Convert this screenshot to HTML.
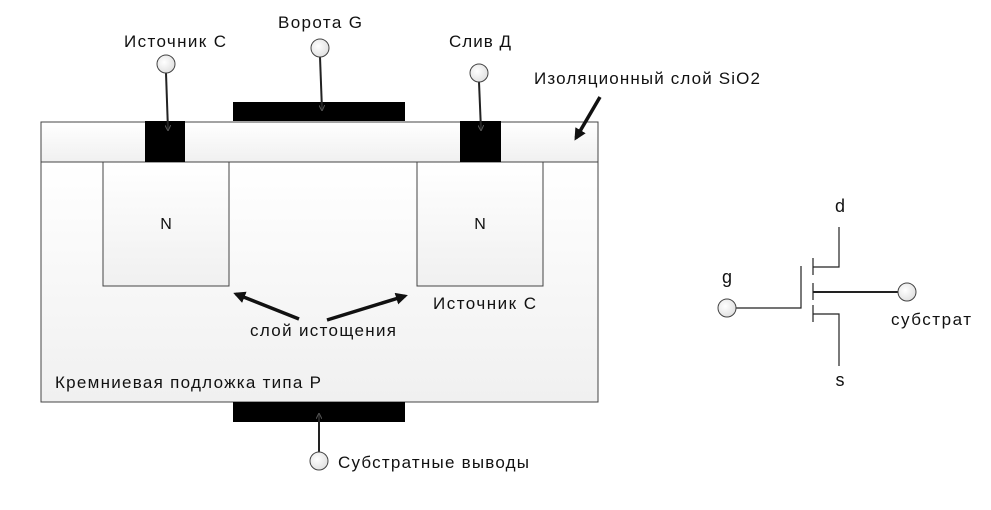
<!DOCTYPE html>
<html><head><meta charset="utf-8"><style>
html,body{margin:0;padding:0;background:#fff}
text{font-family:"Liberation Sans","DejaVu Sans",sans-serif;fill:#111}
</style></head><body>
<svg width="991" height="505" viewBox="0 0 991 505" xmlns="http://www.w3.org/2000/svg">
<defs>
<linearGradient id="g1" x1="0" y1="0" x2="0" y2="1"><stop offset="0" stop-color="#fff"/><stop offset="1" stop-color="#f0f0f0"/></linearGradient>
<radialGradient id="cg" cx="0.4" cy="0.4" r="0.7"><stop offset="0" stop-color="#fff"/><stop offset="1" stop-color="#ddd"/></radialGradient>
<marker id="ah" markerWidth="12" markerHeight="12" refX="9" refY="6" orient="auto" markerUnits="userSpaceOnUse"><path d="M0,0 L12,6 L0,12 z" fill="#111"/></marker>
<marker id="sa" markerWidth="6" markerHeight="6" refX="5" refY="3" orient="auto" markerUnits="userSpaceOnUse"><path d="M0,0 L6,3 L0,6" fill="none" stroke="#555" stroke-width="1"/></marker>
</defs>
<rect x="41" y="162" width="557" height="240" fill="url(#g1)" stroke="#444" stroke-width="1"/>
<rect x="41" y="122" width="557" height="40" fill="url(#g1)" stroke="#444" stroke-width="1"/>
<rect x="103" y="162" width="126" height="124" fill="url(#g1)" stroke="#444"/>
<rect x="417" y="162" width="126" height="124" fill="url(#g1)" stroke="#444"/>
<text x="166" y="229" font-size="16" text-anchor="middle">N</text>
<text x="480" y="229" font-size="16" text-anchor="middle">N</text>
<rect x="145" y="121" width="40" height="41" fill="#000"/>
<rect x="460" y="121" width="41" height="41" fill="#000"/>
<rect x="233" y="102" width="172" height="19" fill="#000"/>
<rect x="233" y="402" width="172" height="20" fill="#000"/>
<line x1="166" y1="73" x2="168" y2="130" stroke="#222" stroke-width="2" marker-end="url(#sa)"/>
<line x1="320" y1="57" x2="322" y2="110" stroke="#222" stroke-width="2" marker-end="url(#sa)"/>
<line x1="479" y1="82" x2="481" y2="130" stroke="#222" stroke-width="2" marker-end="url(#sa)"/>
<line x1="319" y1="452" x2="319" y2="414" stroke="#222" stroke-width="2" marker-end="url(#sa)"/>
<circle cx="166" cy="64" r="9" fill="url(#cg)" stroke="#444"/>
<circle cx="320" cy="48" r="9" fill="url(#cg)" stroke="#444"/>
<circle cx="479" cy="73" r="9" fill="url(#cg)" stroke="#444"/>
<circle cx="319" cy="461" r="9" fill="url(#cg)" stroke="#444"/>
<text x="175" y="47" font-size="17" text-anchor="middle" textLength="102">Источник C</text>
<text x="320" y="28" font-size="17" text-anchor="middle" textLength="84">Ворота G</text>
<text x="480" y="47" font-size="17" text-anchor="middle" textLength="62">Слив Д</text>
<text x="534" y="84" font-size="17" textLength="226">Изоляционный слой SiO2</text>
<text x="433" y="309" font-size="17" textLength="103">Источник C</text>
<text x="250" y="336" font-size="17" textLength="146">слой истощения</text>
<text x="55" y="388" font-size="17" textLength="266">Кремниевая подложка типа P</text>
<text x="338" y="468" font-size="17" textLength="191">Субстратные выводы</text>
<line x1="600" y1="97" x2="576" y2="138" stroke="#111" stroke-width="3.5" marker-end="url(#ah)"/>
<line x1="299" y1="319" x2="236" y2="294" stroke="#111" stroke-width="3.5" marker-end="url(#ah)"/>
<line x1="327" y1="320" x2="405" y2="296" stroke="#111" stroke-width="3.5" marker-end="url(#ah)"/>
<g stroke="#222" stroke-width="1.2" fill="none">
<polyline points="839,227 839,267 813,267"/>
<polyline points="813,314 839,314 839,366"/>
<line x1="813" y1="258" x2="813" y2="275"/>
<line x1="813" y1="283" x2="813" y2="300"/>
<line x1="813" y1="305" x2="813" y2="322"/>
<polyline points="801,266 801,308 736,308"/>
<line x1="813" y1="292" x2="898" y2="292" stroke-width="2"/>
</g>
<circle cx="727" cy="308" r="9" fill="url(#cg)" stroke="#444"/>
<circle cx="907" cy="292" r="9" fill="url(#cg)" stroke="#444"/>
<text x="840" y="212" font-size="18" text-anchor="middle">d</text>
<text x="727" y="283" font-size="18" text-anchor="middle">g</text>
<text x="840" y="386" font-size="18" text-anchor="middle">s</text>
<text x="931" y="325" font-size="17" text-anchor="middle" textLength="80">субстрат</text>
</svg>
</body></html>
